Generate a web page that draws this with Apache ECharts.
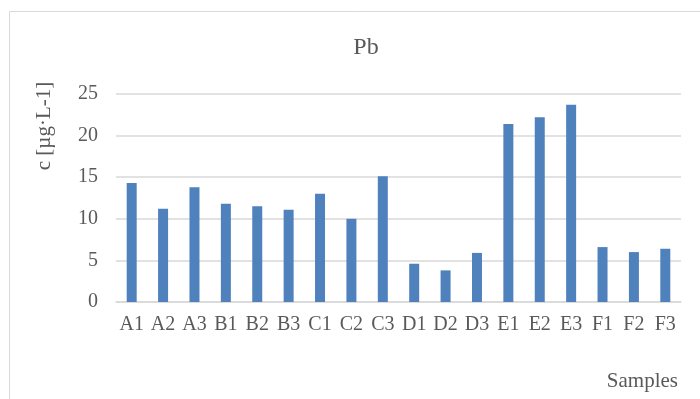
<!DOCTYPE html>
<html>
<head>
<meta charset="utf-8">
<script src="https://cdn.jsdelivr.net/npm/echarts@6/dist/echarts.min.js"></script>
<style>
  html, body { margin: 0; padding: 0; background: #fff; }
  #chart { width: 700px; height: 399px; }
</style>
</head>
<body>
<div id="chart"></div>
<script>
// Pb concentration per sample
const samples = ['A1','A2','A3','B1','B2','B3','C1','C2','C3','D1','D2','D3','E1','E2','E3','F1','F2','F3'];
const pbValues = [14.3, 11.2, 13.8, 11.8, 11.5, 11.1, 13.0, 10.0, 15.1, 4.6, 3.8, 5.9, 21.4, 22.2, 23.7, 6.6, 6.0, 6.4];
const yTicks = [0, 5, 10, 15, 20, 25];

const serif = '"Liberation Serif", "Times New Roman", serif';
const textGray = '#595959';

const chart = echarts.init(document.getElementById('chart'), null, { renderer: 'canvas' });
chart.setOption({
  animation: false,
  backgroundColor: '#ffffff',
  title: {
    text: 'Pb',
    left: 361,
    top: 31,
    textAlign: 'center',
    textStyle: { fontFamily: serif, fontSize: 24, fontWeight: 'normal', color: textGray }
  },
  graphic: [
    {
      type: 'rect',
      shape: { x: 9.5, y: 11.5, width: 900, height: 600 },
      style: { fill: 'none', stroke: '#d9d9d9', lineWidth: 1 },
      silent: true
    },
    {
      type: 'text',
      x: 44, y: 126,
      rotation: Math.PI / 2,
      style: {
        text: 'c [µg·L-1]',
        font: '21px ' + serif,
        fill: textGray,
        align: 'center',
        verticalAlign: 'middle'
      }
    },
    {
      type: 'text',
      x: 678, y: 381,
      style: {
        text: 'Samples',
        font: '21px ' + serif,
        fill: textGray,
        align: 'right',
        verticalAlign: 'middle'
      }
    }
  ],
  grid: { left: 116, right: 19, top: 94, bottom: 97, containLabel: false },
  xAxis: {
    type: 'category',
    data: samples,
    axisLine: { show: true, lineStyle: { color: '#d9d9d9', width: 1.5 } },
    axisTick: { show: false },
    axisLabel: { fontFamily: serif, fontSize: 20, color: textGray, margin: 13, interval: 0 }
  },
  yAxis: {
    type: 'value',
    min: yTicks[0],
    max: yTicks[yTicks.length - 1],
    interval: 5,
    axisLine: { show: false },
    axisTick: { show: false },
    splitLine: { lineStyle: { color: '#d9d9d9', width: 1.5 } },
    axisLabel: { fontFamily: serif, fontSize: 20, color: textGray, margin: 18 }
  },
  series: [{
    type: 'bar',
    data: pbValues,
    barWidth: 10,
    itemStyle: { color: '#4f81bd' }
  }]
});
</script>
</body>
</html>
